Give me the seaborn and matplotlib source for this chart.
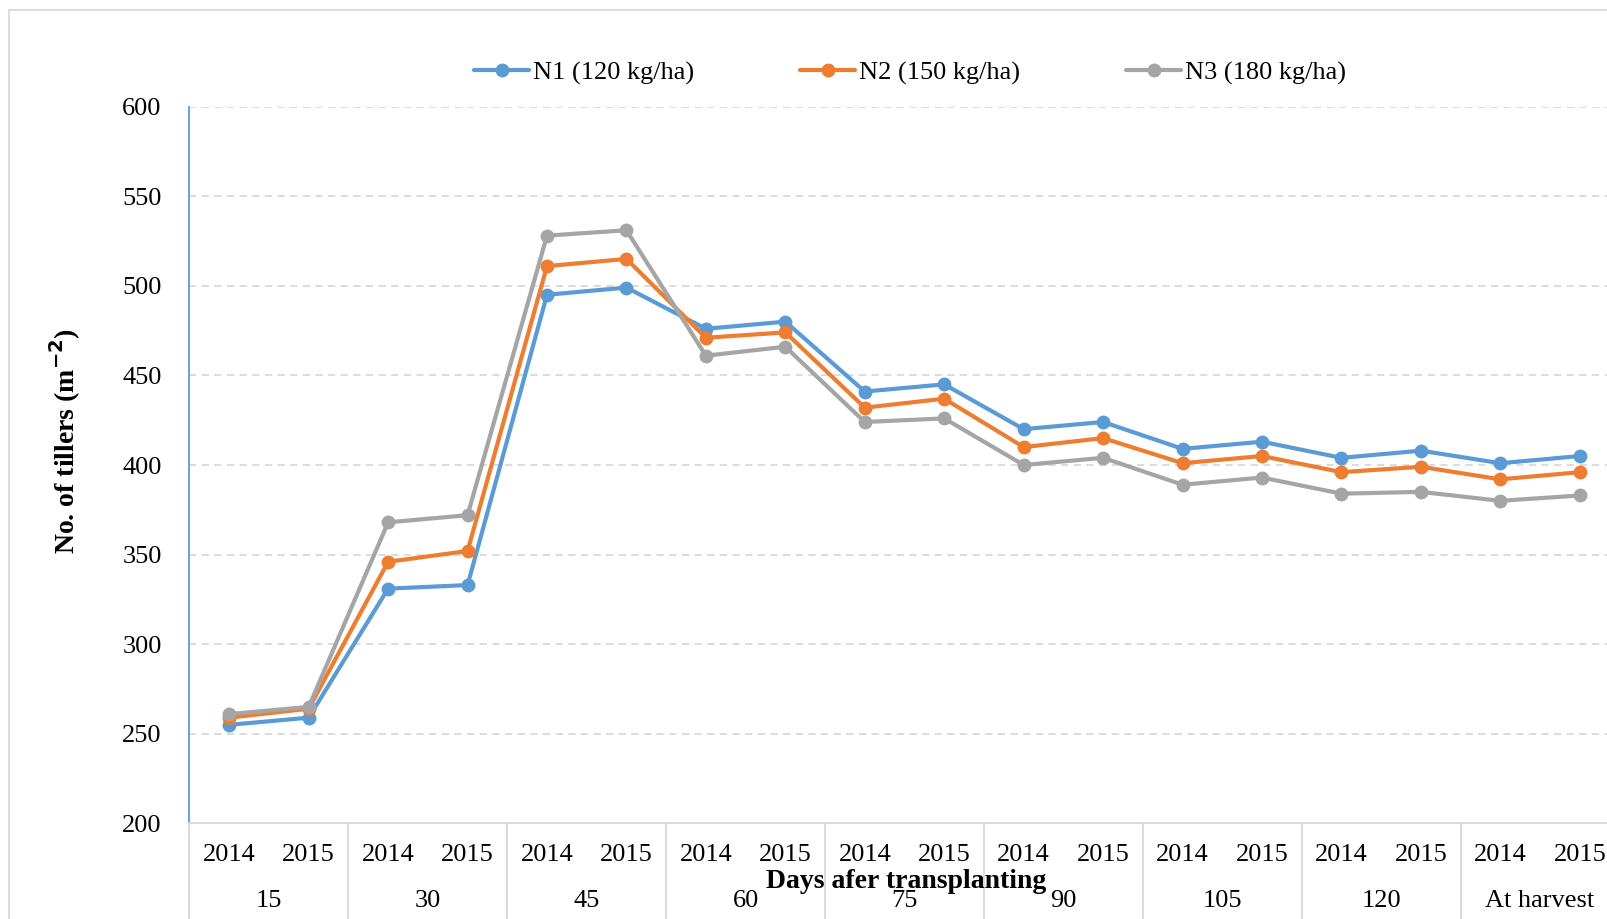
import numpy as np
import pandas as pd
import matplotlib.pyplot as plt
import seaborn as sns
from matplotlib.patches import Rectangle

# Data
days = ['15', '30', '45', '60', '75', '90', '105', '120', 'At harvest']
years = ['2014', '2015']
treatments = ['N1 (120 kg/ha)', 'N2 (150 kg/ha)', 'N3 (180 kg/ha)']

n1 = [255, 259, 331, 333, 495, 499, 476, 480, 441, 445, 420, 424, 409, 413, 404, 408, 401, 405]
n2 = [259, 264, 346, 352, 511, 515, 471, 474, 432, 437, 410, 415, 401, 405, 396, 399, 392, 396]
n3 = [261, 265, 368, 372, 528, 531, 461, 466, 424, 426, 400, 404, 389, 393, 384, 385, 380, 383]

colors = ['#5b9bd5', '#ed7d31', '#a5a5a5']

sns.set_style('white')
plt.rcParams['font.family'] = ['Liberation Serif', 'DejaVu Serif']
plt.rcParams['text.color'] = 'black'
plt.rcParams['ytick.color'] = 'black'
plt.rcParams['ytick.labelcolor'] = 'black'


def build_frame():
    """Long table: one row per point"""
    rows = []
    labels = [(d, y) for d in days for y in years]
    for name, vals in zip(treatments, [n1, n2, n3]):
        for i, v in enumerate(vals):
            rows.append({'pos': i, 'day': labels[i][0], 'year': labels[i][1],
                         'treatment': name, 'tillers': v})
    return pd.DataFrame(rows)


df = build_frame()
n_cat = len(days) * len(years)

fig = plt.figure(figsize=(16.08, 9.19), dpi=100)
ax = fig.add_axes([189.5 / 1608, 1 - 823.4 / 919, 1430 / 1608, (823.4 - 106.6) / 919])

sns.lineplot(data=df, x='pos', y='tillers', hue='treatment', palette=colors,
             marker='o', markersize=10, markeredgewidth=0, linewidth=3.0, ax=ax,
             legend=True)

ax.set_xlim(-0.5, n_cat - 0.5)
ax.set_ylim(200, 600)
ax.set_yticks(np.arange(200, 601, 50))
ax.tick_params(axis='y', labelsize=19, length=0, pad=20, labelcolor='black')
ax.grid(axis='y', color='#d9d9d9', linestyle=(0, (4, 3)), linewidth=1.3)
ax.set_axisbelow(True)

for s in ['top', 'right']:
    ax.spines[s].set_visible(False)
ax.spines['left'].set_color('#5b9bd5')
ax.spines['left'].set_linewidth(1.3)
ax.spines['bottom'].set_color('#d9d9d9')
ax.spines['bottom'].set_linewidth(1.3)

# small ticks at every half category
ax.set_xticks(np.arange(-0.5, n_cat, 0.5))
ax.set_xticklabels([])
ax.tick_params(axis='x', length=6, color='#d9d9d9', width=1.2)
ax.set_xlabel('')
ax.set_ylabel('')

# two-level category labels
trans = ax.get_xaxis_transform()
for i in range(n_cat):
    ax.text(i, -0.044, years[i % 2], transform=trans, ha='center', va='center',
            fontsize=19, color='black')
for g, d in enumerate(days):
    ax.text(2 * g + 0.5, -0.108, d, transform=trans, ha='center', va='center',
            fontsize=19, color='black')
for k in range(0, n_cat + 1, 2):
    ax.plot([k - 0.5, k - 0.5], [0, -0.2], transform=trans, color='#d9d9d9',
            linewidth=1.3, clip_on=False)

fig.text(906 / 1608, 1 - 882 / 919, 'Days afer transplanting', ha='center', va='center',
         fontsize=20, fontweight='bold', color='black')
fig.text(65 / 1608, 1 - 441 / 919, 'No. of tillers (m$^{\\mathbf{-2}}$)', ha='center', va='center',
         rotation=90, fontsize=20, fontweight='bold', color='black')

handles, labels = ax.get_legend_handles_labels()
ax.get_legend().remove()
leg = fig.legend(handles, labels, loc='center', bbox_to_anchor=(0.566, 1 - 73 / 919), ncol=3,
                 frameon=False, fontsize=19, handlelength=2.1, handletextpad=0.15,
                 columnspacing=4.0)
for t in leg.get_texts():
    t.set_color('black')

# outer chart border
fig.patches.append(Rectangle((9 / 1608, -0.01), 1.2, 1 - 10 / 919 + 0.01,
                             transform=fig.transFigure, fill=False,
                             edgecolor='#d9d9d9', linewidth=1.3))

fig.savefig('out.png', dpi=100)
